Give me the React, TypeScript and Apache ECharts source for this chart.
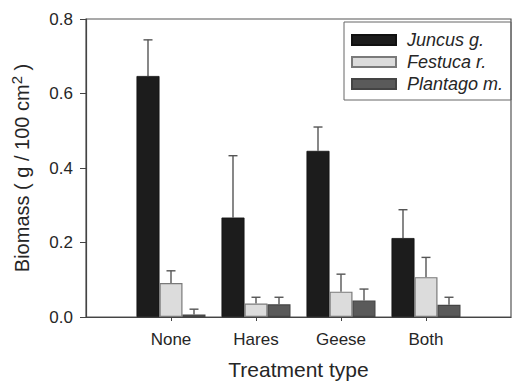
import React, { useEffect, useRef } from "react";
import * as echarts from "echarts";

// Treatment groups (padded with empty slots so the groups sit on ticks 1..4)
const categories = ["", "None", "Hares", "Geese", "Both", ""];
const treatments = ["None", "Hares", "Geese", "Both"];

// Mean biomass (g / 100 cm²) per species and treatment
const juncus = [0.647, 0.267, 0.446, 0.212];
const festuca = [0.091, 0.036, 0.068, 0.107];
const plantago = [0.007, 0.034, 0.044, 0.033];

// Standard errors (upper whisker only)
const juncusErr = [0.097, 0.166, 0.064, 0.076];
const festucaErr = [0.033, 0.017, 0.047, 0.053];
const plantagoErr = [0.014, 0.019, 0.031, 0.02];

const yTicks = [0, 0.2, 0.4, 0.6, 0.8];

const FONT = '"Liberation Sans", Arial, Helvetica, sans-serif';
const TEXT = "#262626";
const BAR_W = 23;

const pad = (vals: number[]) => [null, ...vals, null];

const errorData = (means: number[], errs: number[]) =>
  means.map((m, i) => [i + 1, m, m + errs[i]]);

const errorSeries = (name: string, means: number[], errs: number[], offset: number) => ({
  type: "custom",
  name: name + " SE",
  z: 1,
  silent: true,
  data: errorData(means, errs),
  renderItem: (_params: any, api: any) => {
    const cat = api.value(0);
    const lo = api.coord([cat, api.value(1)]);
    const hi = api.coord([cat, api.value(2)]);
    const x = lo[0] + offset;
    const style = { stroke: "#555", lineWidth: 1.4, fill: "none" };
    return {
      type: "group",
      children: [
        { type: "line", shape: { x1: x, y1: lo[1], x2: x, y2: hi[1] }, style },
        { type: "line", shape: { x1: x - 4.5, y1: hi[1], x2: x + 4.5, y2: hi[1] }, style },
      ],
    };
  },
});

export default function App() {
  const ref = useRef<HTMLDivElement>(null);

  useEffect(() => {
    if (!ref.current) return;
    const chart = echarts.init(ref.current, undefined, { renderer: "svg" });
    chart.setOption({
      animation: false,
      backgroundColor: "#ffffff",
      grid: {
        left: 86,
        top: 19,
        width: 430,
        height: 300,
        show: true,
        borderColor: "#555",
        borderWidth: 1.2,
        containLabel: false,
      },
      legend: {
        orient: "vertical",
        left: 344,
        top: 22,
        padding: [9, 8, 7, 7],
        itemGap: 4,
        itemWidth: 44,
        itemHeight: 10,
        borderColor: "#666",
        borderWidth: 1,
        icon: "rect",
        data: ["Juncus g.", "Festuca r.", "Plantago m."],
        textStyle: {
          fontFamily: FONT,
          fontStyle: "italic",
          fontSize: 18,
          color: TEXT,
          padding: [0, 0, 0, 6],
        },
      },
      xAxis: {
        type: "category",
        data: categories,
        boundaryGap: false,
        name: "Treatment type",
        nameLocation: "middle",
        nameGap: 42,
        nameTextStyle: { fontFamily: FONT, fontSize: 21, color: TEXT },
        axisLine: { lineStyle: { color: "#444", width: 1.2 } },
        axisTick: {
          length: 4,
          inside: false,
          interval: (i: number) => i > 0 && i < categories.length - 1,
          lineStyle: { color: "#444" },
        },
        axisLabel: {
          interval: 0,
          margin: 14,
          fontFamily: FONT,
          fontSize: 17,
          color: TEXT,
        },
        splitLine: { show: false },
      },
      yAxis: {
        type: "value",
        min: yTicks[0],
        max: yTicks[yTicks.length - 1],
        interval: 0.2,
        name: "Biomass ( g / 100 cm{sup|2} )",
        nameLocation: "middle",
        nameGap: 52,
        nameTextStyle: {
          fontFamily: FONT,
          fontSize: 20,
          color: TEXT,
          rich: {
            sup: { fontFamily: FONT, fontSize: 15, color: TEXT, padding: [0, 0, 10, 0] },
          },
        },
        axisLine: { show: true, lineStyle: { color: "#444", width: 1.2 } },
        axisTick: { show: true, length: 6, lineStyle: { color: "#444" } },
        axisLabel: {
          margin: 13,
          fontFamily: FONT,
          fontSize: 17,
          color: TEXT,
          formatter: (v: number) => v.toFixed(1),
        },
        splitLine: { show: false },
      },
      series: [
        {
          type: "bar",
          name: "Juncus g.",
          data: pad(juncus),
          barWidth: BAR_W,
          barGap: "0%",
          z: 2,
          itemStyle: { color: "#1c1c1c", borderColor: "#111", borderWidth: 0.8 },
        },
        {
          type: "bar",
          name: "Festuca r.",
          data: pad(festuca),
          barWidth: BAR_W,
          barGap: "0%",
          z: 2,
          itemStyle: { color: "#dcdcdc", borderColor: "#7a7a7a", borderWidth: 1.2 },
        },
        {
          type: "bar",
          name: "Plantago m.",
          data: pad(plantago),
          barWidth: BAR_W,
          barGap: "0%",
          z: 2,
          itemStyle: { color: "#5a5a5a", borderColor: "#444", borderWidth: 1.2 },
        },
        errorSeries("Juncus g.", juncus, juncusErr, -BAR_W),
        errorSeries("Festuca r.", festuca, festucaErr, 0),
        errorSeries("Plantago m.", plantago, plantagoErr, BAR_W),
      ],
    });
    return () => chart.dispose();
  }, []);

  return (
    <div
      ref={ref}
      style={{ position: "fixed", left: 0, top: 0, width: 514, height: 385, background: "#fff" }}
    />
  );
}
